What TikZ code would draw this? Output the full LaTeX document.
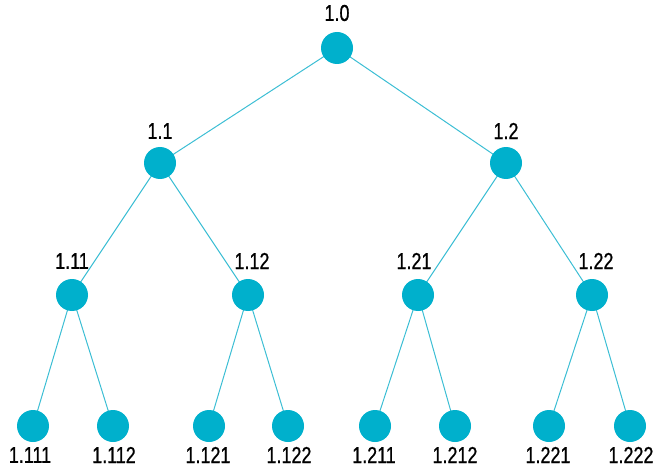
\documentclass[tikz,border=0pt]{standalone}
\usepackage{fontspec}
\setmainfont{Liberation Sans}[FakeStretch=0.78,FakeBold=0.7]
\definecolor{nodefill}{RGB}{0,176,204}
\definecolor{edgecol}{RGB}{60,190,212}
\begin{document}
\begin{tikzpicture}[x=1pt,y=-1pt,
  dot/.style={circle,fill=nodefill,minimum size=32pt,inner sep=0pt},
  edge/.style={draw=edgecol,line width=1pt},
  lbl/.style={font=\fontsize{23}{23}\selectfont,text=black,inner sep=0pt,anchor=center}]
\useasboundingbox (0,0) rectangle (656,468);
% edges first, so the dots cover their ends
\coordinate (c0) at (337,48);
\coordinate (c1) at (160,163);
\coordinate (c2) at (506,163);
\coordinate (c11) at (72,295);
\coordinate (c12) at (248,295);
\coordinate (c21) at (418,295);
\coordinate (c22) at (592,295);
\coordinate (c111) at (33,426);
\coordinate (c112) at (113,426);
\coordinate (c121) at (209,426);
\coordinate (c122) at (288,426);
\coordinate (c211) at (375,426);
\coordinate (c212) at (455,426);
\coordinate (c221) at (549,426);
\coordinate (c222) at (630,426);
\foreach \a/\b in {0/1,0/2,1/11,1/12,2/21,2/22,
  11/111,11/112,12/121,12/122,21/211,21/212,22/221,22/222}
  \draw[edge] (c\a) -- (c\b);
% nodes
\foreach \n in {0,1,2,11,12,21,22,111,112,121,122,211,212,221,222}
  \node[dot] (n\n) at (c\n) {};
% labels
\node[lbl] (t0) at (337,13) {1.0};
\node[lbl] (t1) at (160,131) {1.1};
\node[lbl] (t2) at (506,131) {1.2};
\node[lbl] (t11) at (72,261) {1.11};
\node[lbl] (t12) at (252,261) {1.12};
\node[lbl] (t21) at (414,261) {1.21};
\node[lbl] (t22) at (596,261) {1.22};
\node[lbl] (t111) at (30,455) {1.111};
\node[lbl] (t112) at (114,455) {1.112};
\node[lbl] (t121) at (208,455) {1.121};
\node[lbl] (t122) at (289,455) {1.122};
\node[lbl] (t211) at (374,455) {1.211};
\node[lbl] (t212) at (455,455) {1.212};
\node[lbl] (t221) at (548,455) {1.221};
\node[lbl] (t222) at (631,455) {1.222};
\end{tikzpicture}
\end{document}
